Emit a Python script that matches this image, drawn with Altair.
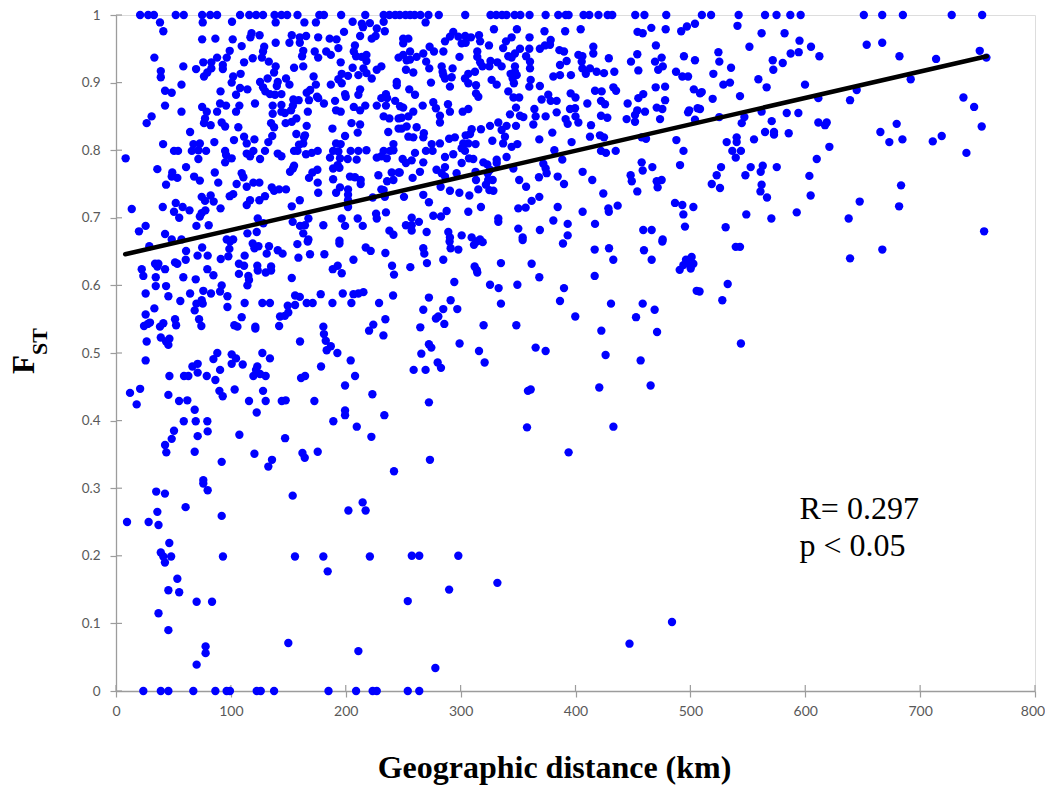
import altair as alt
import pandas as pd

top_row_km = [21,28,33,52,59,75,82,88,108,116,122,128,138,144,149,158,177,181,196,217,233,238,243,
              247,252,256,260,265,272,281,304,326,331,336,340,347,352,360,374,385,391.5,394,407,412,420,428,432,452,460,479,
              510,518,542,565,575,587,596,651,667,685,727.5,754]
zero_row_km = [23.8,39,45.6,67.3,86.5,96.3,99.2,122.5,126,137.6,185,209,223.4,227,254,264]

upper_left = [(38.3,.989),(41.2,.976),(75.5,.989),(101,.990),(139,.989),(164,.989),(174,.989),(206,.990),(214,.987),(215,.982),(221,.988),(227,.980),(234,.976),(233,.990),
(198.5,.975),(118,.973),(117,.967),(125,.970),(153,.970),(160,.967),(165.5,.969),(176,.967),(186,.965),(192,.964),(212.5,.969),(222.6,.965),(226,.969),(75,.964),(86.5,.965),(101.6,.964),(139,.959),(151,.959),(160,.959),(109.4,.954),(208,.955),(129,.953),
(33.4,.937),(99,.947),(96.4,.937),(88,.937),(128,.946),(127,.937),(163,.947),(162,.939),(173,.946),(176,.937),(183,.946),(187,.941),(193.6,.951),(207,.946),(209,.939),(214,.938),(218,.941),(218,.932),(246,.937),
(119,.936),(111.5,.930),(133,.931),(195.6,.930),(76,.930),(83,.930),(58.6,.924),(69.7,.920),(83,.921),(93,.926),(93,.920),(139,.924),(155,.922),(163,.924),(206,.922),(215.4,.921),(227,.919),(231,.924),
(39,.917),(39,.908),(79.5,.915),(76.6,.909),(108.5,.913),(102,.909),(137.6,.915),(172,.909),(196.5,.913),(193.6,.905),(202,.910),(211,.911),(218,.914),(222.6,.906),
(100.7,.900),(57,.897),(132,.906),(125.4,.901),(140.8,.901),(148,.906),(151,.897),(174,.897),(187,.897),(196.5,.899),(244.4,.901),(244.4,.896),
(140,.895),(128,.893),(108,.892),(114.4,.890),(91,.887),(130,.887),(134,.883),(169,.889),(166,.885),(212.5,.890),(42.7,.888),(48.5,.885),
(138.4,.882),(144,.883),(199.4,.883),(211,.882),(235,.883),(104.5,.882),(175,.879),(200,.879),
(154.4,.875),(159,.874),(168,.874),(231,.877),(236,.877),(243,.873),(190.7,.873),(176,.877),
(90.6,.869),(95.8,.866),(121,.869),(181,.869),(42.7,.866),(75,.864),(107.4,.866),(136.4,.866),(144,.867),(154,.866),(227,.866),(235,.866),(207,.864),(217,.866),(247.3,.865),
(212.5,.859),(191.6,.859),(195.6,.857),(57,.857),(79,.857),(88,.857),(104.5,.857),(144,.857),(152.4,.859),(167,.857),(136.4,.854),(147,.855),
(31,.850),(26.7,.840),(77.5,.847),(76.6,.840),(157,.847),(153,.842),(147.7,.840),(233,.850),(238,.847),(246,.847),
(82.4,.837),(92,.841),(95,.835),(106.5,.834),(135,.840),(137.6,.834),(166,.836),(188.4,.832),(205,.840),(212.5,.838),(246,.832),
(64.5,.827),(136,.821),(157,.824),(164.5,.822),(199.4,.821),(210.4,.826),(237,.827),(111.5,.820),(102.7,.815),(120.5,.816),(163.7,.819),
(85.6,.812),(41,.809),(67.4,.809),(73,.810),(113.8,.810),(132.6,.812),(163,.810),(159.3,.808),(191.6,.810),(195.6,.809),(241.5,.809),
(50.5,.799),(54,.799),(66,.799),(71.7,.800),(78.4,.799),(95,.799),(113.8,.795),(119.6,.799),(129.7,.799),(155,.799),(158,.799),(175.6,.799),(170.4,.796),(165.4,.794),(189,.799),(193.6,.798),(204.3,.799),(211,.799),(218,.800),(233,.799),(238.6,.799),(241.5,.800),
(8.4,.788),(71.7,.787),(95.8,.793),(100.7,.788),(116.7,.791),(125.4,.787),(140.8,.795),(144,.791),(186.3,.789),(195,.788),(201.7,.787),(209.5,.786),(227,.789),(231,.791),(235.7,.788),
(95,.782),(155,.777),(154,.773),(36,.772),(61,.775),(193,.778),(194.5,.774),(189,.773),
(151.5,.768),(86,.767),(175.3,.771),(171,.767),(109.4,.766),(49,.767),(48.5,.761),(53.4,.759),(68,.761),(110.9,.760),(168,.759),(228.4,.763),(240,.767),(246,.767),(203.7,.761),(208,.760),
(73,.755),(89,.752),(43.6,.749),(105,.750),(113.8,.746),(119.6,.752),(124.8,.752),(175.6,.752),(189,.757),(195,.745),(213,.756),(213,.750),(236,.754),(241.5,.756),
(135.6,.745),(137.6,.740),(142,.742),(148,.742),(176,.737),(191.6,.737),(202,.742),(202,.734),(231,.742),(233,.741),
(102,.735),(99,.732),(74.6,.731),(82.4,.733),(77.5,.725),(85,.724),(116.7,.726),(124.8,.726),(129.7,.732),(160,.726),(202,.726),(223.5,.730),(234,.731),
(113.8,.719),(52,.722),(40.7,.716),(58,.716),(64,.711),(50.5,.709),(74.6,.707),(77.8,.711),(91,.714),(13.7,.713),(153,.717),(202,.716),(73,.702),(55,.700),
(226.4,.706),(227,.699),(235,.708),(167.5,.699),(196.5,.699),(210.4,.699),(123.4,.699),(153.8,.694),
(25.8,.688),(20,.680),(70,.688),(80.7,.689),(114.4,.677),(122.5,.679),(128.3,.692),(160.2,.688),(164.5,.689),(180.5,.689),(199.4,.688),(214.8,.688),(238,.681),(241.5,.675),(163,.677),(42.7,.676),(48.5,.668),(57,.668),(96.4,.668),(102,.668),(167.5,.668),(194.5,.666)]

upper_mid = [(269.5,.989),(329,.979),(349,.979),(373,.976),(391,.976),(404.5,.979),(466,.981),(478.5,.979),(454,.975),(458.5,.973),(492,.976),(497,.983),(504,.987),
(293.6,.975),(290.7,.968),(286.4,.961),(298,.968),(304,.969),(309,.967),(316,.970),(317,.961),(300.9,.958),(304.4,.959),(324.7,.955),(344.4,.967),(339.5,.961),(337,.951),(360,.967),(250,.965),(254.5,.965),(250,.958),(273,.953),(276.8,.946),(285,.946),(267.5,.943),(256,.946),(250,.941),(261.7,.938),(256,.934),(253,.933),(299,.938),(314.5,.946),(314.5,.938),(317,.930),(319,.924),(326,.932),(332,.930),(325,.924),(335.7,.924),
(359.8,.950),(351.7,.950),(347.3,.943),(341.5,.939),(344.4,.937),(357,.939),(360.4,.931),(360.4,.921),(369,.950),(373.4,.955),(378.4,.963),(377.8,.956),(386,.948),(390,.946),(415.5,.953),(415.5,.943),(402.5,.941),(406,.939),(392.3,.932),(386.5,.926),(429,.936),(405.4,.931),(406,.921),(412.6,.921),(418.4,.916),(424.8,.914),(433.8,.916),(409,.913),(396,.911),(386.5,.911),(380.7,.909),
(270,.931),(272.7,.921),(283.5,.924),(284.3,.916),(293,.921),(252.4,.919),(258.8,.915),(285,.911),(286.4,.906),(292.2,.908),(312.5,.916),(306.7,.913),(303.8,.906),(306.7,.899),(313.4,.896),(290.7,.894),(274.2,.900),(347.3,.924),(347.3,.916),(343.5,.913),(348.8,.911),(345.3,.906),(346.4,.899),(361,.904),(359.8,.894),(369,.895),(327,.904),(331.4,.897),(448.3,.931),(453.8,.942),(470,.955),(469.2,.931),(475,.937),(494.4,.939),(504,.933),(454.7,.918),(472,.919),(476,.924),(487.5,.916),(493,.909),(498,.909),
(255.3,.890),(260.3,.882),(313.4,.884),(315.4,.879),(341.5,.887),(346,.878),(351,.878),(376.3,.882),(370.5,.875),(378.4,.873),(383.6,.873),(395.8,.884),(400,.878),(410.3,.869),(417,.888),(422.8,.887),(433,.893),(435.3,.888),(422.2,.873),(425.7,.868),(445.4,.869),(454.7,.877),(459,.883),(469.8,.893),(478,.894),(478,.874),(503,.890),(508.4,.884),
(267,.866),(276.2,.871),(278.5,.862),(289,.868),(290.7,.857),(250,.863),(258.8,.857),(254.5,.850),(248.7,.848),(282,.851),(282,.841),(301.8,.857),(306.7,.861),(343,.853),(348.2,.863),(351.7,.851),(354.6,.849),(364.2,.861),(365.3,.850),(374,.850),(383.6,.856),(391.4,.846),(393.2,.839),(395.2,.861),(399.6,.862),(400,.850),(402.5,.841),(422.2,.851),(427.7,.848),(444.5,.846),(451.8,.852),(453.8,.859),(451.8,.842),(460.5,.857),(470.7,.863),(475.6,.861),(473.6,.846),(499,.859),(498,.856),(506.3,.862),(504,.845),
(253,.835),(261.7,.834),(248.7,.832),(268,.825),(267.5,.819),(254.5,.820),(258.8,.819),(309.6,.831),(308.2,.824),(304.4,.822),(317.7,.831),(325.6,.836),(332.8,.841),(340,.836),(335.7,.830),(348.2,.836),(363.3,.838),(338.6,.820),(337,.810),(344.4,.805),(349.4,.809),(368.5,.816),(379.8,.826),(396.6,.812),(412.6,.820),(413.5,.837),(421.3,.822),(424.8,.819),(457.6,.819),(461.4,.817),(487.8,.815),
(290,.817),(295,.819),(282,.810),(274.8,.809),(313,.809),(327.6,.814),(302.3,.810),(306.7,.810),(300.9,.803),(303.8,.799),(269.8,.799),(275.6,.799),(260.3,.796),(249.5,.787),(293.6,.794),(286.4,.790),(307.3,.788),(311,.787),(300.9,.781),(319.8,.782),(323.2,.779),(331.4,.786),(331.4,.781),(340,.790),(381.6,.800),(388.5,.786),(422.2,.799),(426.5,.796),(435,.799),(494,.799),(491,.778),(457.6,.782),(466.9,.775),(372,.780),(374,.773),
(257.4,.785),(252.4,.781),(267.5,.782),(279,.771),(286.4,.775),(264.6,.768),(247,.767),(258.2,.759),(283.5,.766),(286.4,.761),(296.5,.766),(313,.768),(323.5,.766),(325.6,.771),(345.9,.773),(374.9,.766),(368.2,.760),(384.5,.761),(406.2,.768),(414.6,.756),(448,.763),(458.5,.770),(449,.754),
(313.4,.756),(324,.756),(327.9,.756),(322,.749),(325,.741),(328.5,.740),(351,.756),(357,.746),(390,.750),(470.7,.754),(475,.756),(471.5,.745),(453.8,.739),(424.2,.736),(282.6,.746),(290.7,.740),(298.9,.737),(307.6,.733),(315.4,.742),(250.7,.731),(267.5,.734),(272.4,.723),
(361.8,.725),(368.5,.731),(350.2,.714),(356.6,.715),(384.5,.716),(406.2,.709),(428.6,.714),(429,.709),(436.7,.718),(486.6,.722),(493,.719),(502.6,.716),(493.9,.705),(495.3,.687),
(287.8,.710),(282.9,.702),(276.2,.703),(306.7,.709),(317.7,.716),(332.8,.699),(332.8,.694),(257.4,.700),(263.7,.694),(252.4,.689),(257.4,.689),(257.4,.681),(270.4,.679),(289.3,.679),(290.7,.671),(300.9,.674),(309.6,.671),(316.9,.668),(350.2,.684),(369,.682),(380.7,.696),(393.2,.691),(417,.691),(393.2,.674),(354,.671),(459,.682),(466.3,.682),(475.9,.668)]

upper_right = [(541,.984),(562,.973),(582,.973),(595,.962),(605,.953),(612.3,.939),(587.3,.943),(594.3,.945),(551.4,.953),(524.4,.945),(525.2,.931),(535.4,.922),(520,.913),(528.7,.897),(534.5,.900),(509.9,.886),(519.4,.876),(543.2,.880),(559.2,.905),(566.4,.893),(571.7,.933),(580.4,.929),(572.2,.919),(599.8,.897),(611.4,.877),(508.4,.861),(562,.857),(583.9,.855),(594,.855),(547,.849),(544.7,.840),(525.2,.849),(570.8,.843),(611.4,.841),(618.7,.841),(617.2,.837),(565,.827),(572.8,.827),(572.8,.823),(585.6,.825),(555.4,.816),(540.3,.819),(540.3,.812),(531.6,.812),(536.5,.799),(544,.799),(539.5,.789),(621,.805),(610,.787),(526.7,.775),(522.9,.763),(518.6,.750),(525.8,.744),(547.9,.763),(552.5,.775),(563,.777),(561.2,.768),(575.2,.775),(603.6,.762),(562,.749),(561,.739),(566.7,.730),(604.7,.733),(548.7,.705),(570.5,.699),(592.6,.708),(530.7,.686),(539.5,.657),(543.2,.657),(532.5,.602),(508,.591),(527.8,.578),(544,.514),
(653.5,.956),(667,.959),(682,.939),(713.9,.935),(751.9,.947),(757.7,.937),(691.8,.905),(644.8,.889),(639,.874),(737.7,.878),(747,.864),(753.6,.835),(679.6,.839),(665.4,.827),(673.2,.812),(684.6,.816),(711,.813),(718.8,.821),(740.3,.796),(683.4,.748),(647.4,.724),(681.7,.717),(637.8,.699),(755.7,.680),(667.1,.653),(639,.640)]

lower_left = [(29,.658),(61,.651),(60.7,.638),(71,.644),(79.8,.644),(75,.656),(99.3,.665),(98.7,.654),(97.8,.643),(91.2,.639),(112,.644),(119,.662),(120.5,.655),(124,.658),(133.2,.658),(131.2,.647),(140.8,.652),(145,.647),(157.9,.661),(158.8,.641),(168.9,.646),(166.9,.665),(181.4,.646),(194.5,.662),(217.4,.656),(221.7,.651),(234.5,.648),(206.7,.638),
(34,.632),(36.9,.632),(36,.628),(42.7,.624),(22.4,.624),(23.8,.614),(34.6,.612),(51.4,.634),(53.4,.632),(79.5,.624),(84.8,.615),(58.6,.612),(69.4,.609),(107,.632),(111.5,.629),(107,.617),(123,.629),(123.4,.622),(130.3,.619),(135,.628),(135,.622),(115.2,.614),(115.8,.608),(153,.611),(114.4,.600),(188.7,.624),(193,.629),(196.5,.618),(240.3,.629),(242,.616),
(34.6,.599),(43.6,.599),(25.8,.588),(45.6,.584),(56,.577),(64.5,.588),(76,.592),(82.7,.588),(92,.600),(90.6,.591),(97,.584),(70,.573),(74.6,.578),(75.5,.573),(97,.568),(112,.574),(127.4,.574),(134,.574),(149.5,.570),(155.9,.571),(155.9,.585),(160,.583),(166,.574),(171.2,.574),(178.2,.587),(188.4,.574),(197.4,.588),(206.7,.587),(211,.588),(215.4,.590),(204.9,.574),(229,.574),(241.2,.585),
(33.4,.566),(25.8,.557),(68.5,.563),(72.3,.550),(74.3,.540),(51.4,.550),(52.3,.541),(41.2,.544),(38.3,.539),(29.6,.545),(27.6,.543),(24.4,.540),(109.4,.553),(103,.541),(105.7,.539),(121.3,.539),(121.3,.536),(142,.540),(142.8,.554),(147,.555),(150,.560),(180.5,.539),(181,.528),(182.6,.518),(187,.510),(183.4,.504),(192.7,.500),(204.3,.489),(234.5,.550),(224,.542),(220.3,.533),(232.8,.526),
(39,.523),(46.5,.521),(43.6,.517),(45.6,.512),(26.7,.517),(160.2,.517),(25.8,.489),(88.2,.500),(84.8,.491),(100.7,.498),(104.5,.492),(100.7,.484),(110.3,.483),(127.4,.500),(134,.492),(71.1,.484),(66.5,.480),(90.6,.475),(71.1,.471),(123,.480),(121.9,.475),(125.4,.469),(130.3,.466),(119.6,.466),(178.5,.480),(46.5,.466),(59.2,.466),(63,.466),(79,.466),(86.5,.460),(161.1,.463),(164.6,.466),(208.1,.466),(199.4,.452),
(21,.447),(12.2,.441),(18,.424),(45.6,.438),(54.9,.429),(62.1,.430),(90,.444),(92.9,.436),(103.3,.446),(128,.444),(115.8,.429),(130.3,.429),(144.3,.429),(147.7,.430),(172.7,.429),(223.2,.439),(68.5,.416),(122.5,.412),(199.4,.415),(199.4,.408),(233.6,.408),(189.2,.399),
(59,.399),(69.4,.399),(79.5,.399),(50.5,.385),(79.8,.384),(71.1,.377),(107.4,.379),(48.5,.373),(147.2,.374),(209.6,.391),(222.3,.376),(42.7,.364),(43.8,.353),(68.5,.354),(120.5,.351),(162.3,.352),(164.3,.345),(175.6,.354),(135.8,.342),(132.6,.332),(92,.339),(242,.325),(76,.312)]

lower_mid = [(267.5,.655),(268.4,.647),(256.2,.627),(270.7,.633),(284.9,.638),(290.4,.665),(291.3,.655),(298,.653),(311.6,.660),(314,.665),(319.2,.664),(335.1,.633),(361.8,.632),(354,.667),(389.1,.662),(416.7,.653),(429.2,.655),(432.9,.638),(459.6,.652),(466.3,.638),(475.6,.665),
(312.2,.628),(314,.623),(314.5,.619),(368.5,.612),(416.7,.614),(294.5,.605),(325.6,.601),(333.1,.596),(349.4,.601),(390,.596),(272.4,.582),(291.3,.578),(386.5,.577),(335.1,.573),(430.9,.573),(458.5,.573),(468.9,.564),(267.5,.564),(284.9,.565),(297.1,.565),(280.6,.554),(278.5,.551),(285.8,.543),(264.9,.538),(320,.541),(348.5,.541),(399.8,.554),(452.7,.553),(422.5,.533),(471,.531),(490.7,.623),(493.9,.630),(496.2,.638),(501.1,.642),(502.6,.632),(500.3,.625),(496.8,.633),(505.5,.592),
(272.4,.513),(274.5,.508),(265.8,.499),(299.1,.514),(316,.503),(320.9,.486),(365.3,.508),(374,.503),(426.2,.497),(456.7,.489),(280,.486),(282.9,.478),(259.1,.475),(269.5,.475),(272.4,.427),(361,.446),(358.6,.444),(420.7,.449),(465.4,.452),(357.8,.390),(433,.391),(394,.353),(273.3,.342)]

base_points = [(9.6,.25),(28.4,.25),(35,.295),(42.6,.292),(36,.265),(37,.2455),(60.6,.272),(76,.307),(79.8,.297),(92,.259),(46.4,.219),(39,.205),(41.2,.199),(48,.199),(42.6,.19),(93.1,.199),(53.4,.166),(45.6,.149),(55,.146),(70.2,.132),(83.6,.132),(37,.115),(45.6,.090),(78,.066),(78,.056),(70.2,.039),
(153.8,.289),(155.8,.199),(180.5,.199),(184.3,.177),(221,.199),(202.3,.267),(214.7,.279),(217.3,.267),(150,.071),(211,.059),
(257.5,.2),(264,.2),(298,.2),(290,.15),(332,.16),(254,.133),(484,.102),(447,.07),(278,.034)]

trend_km = [8, 758]
trend_fst = [.646, .939]
x_ticks = [0,100,200,300,400,500,600,700,800]
y_ticks = [0,.1,.2,.3,.4,.5,.6,.7,.8,.9,1]
notes = ["R= 0.297", "p < 0.05"]
note_km = [595, 595]
note_fst = [.2685, .2140]

pairs = upper_left + upper_mid + upper_right + lower_left + lower_mid + base_points
pairs += [(k, 1.0) for k in top_row_km] + [(k, 0.0) for k in zero_row_km]
df = pd.DataFrame(pairs, columns=["km", "fst"])

GRAY = "#9c9c9c"
LABEL = "#595959"
xs = alt.Scale(domain=[0, 800], nice=False, zero=False)
ys = alt.Scale(domain=[0, 1], nice=False, zero=False)

points = alt.Chart(df).mark_circle(size=70, color="#0000ff", opacity=1).encode(
    x=alt.X("km:Q", scale=xs, axis=alt.Axis(
        values=x_ticks, grid=False, title=None, labelFlush=False,
        labelOffset=alt.expr("datum.value == 800 ? -2.5 : 0"),
        labelFont="Lato", labelFontSize=14, labelColor=LABEL, labelPadding=7,
        domainColor=GRAY, domainWidth=1.3, tickColor=GRAY, tickSize=6, tickWidth=1.2)),
    y=alt.Y("fst:Q", scale=ys, axis=alt.Axis(
        values=y_ticks, format="~g", grid=False, title=None, labelFlush=False,
        labelFont="Lato", labelFontSize=13.5, labelColor=LABEL, labelPadding=10,
        domainColor=GRAY, domainWidth=1.3, tickColor=GRAY, tickSize=6, tickWidth=1.2)),
)

inner_y = alt.Chart(pd.DataFrame({"v": y_ticks})).mark_rule(color=GRAY, strokeWidth=1.2).encode(
    y=alt.Y("v:Q", scale=ys), x=alt.value(0), x2=alt.value(6))
inner_x = alt.Chart(pd.DataFrame({"v": x_ticks})).mark_rule(color=GRAY, strokeWidth=1.2).encode(
    x=alt.X("v:Q", scale=xs), y=alt.value(670), y2=alt.value(676))

trend = alt.Chart(pd.DataFrame({"km": trend_km, "fst": trend_fst})).mark_line(
    color="#000000", strokeWidth=4.5, strokeCap="round").encode(
    x=alt.X("km:Q", scale=xs), y=alt.Y("fst:Q", scale=ys))

note_text = alt.Chart(pd.DataFrame({"t": notes, "km": note_km, "fst": note_fst})).mark_text(
    font="Liberation Serif", fontSize=32, color="#000000", align="left", baseline="middle").encode(
    x=alt.X("km:Q", scale=xs), y=alt.Y("fst:Q", scale=ys), text="t:N")

x_title = alt.Chart(pd.DataFrame({"t": ["Geographic distance (km)"]})).mark_text(
    font="Liberation Serif", fontSize=32, fontWeight="bold", color="#000000",
    align="center", baseline="alphabetic").encode(
    x=alt.value(438.5), y=alt.value(763), text="t:N")

f_label = alt.Chart(pd.DataFrame({"t": ["F"]})).mark_text(
    font="Liberation Serif", fontSize=31, fontWeight="bold", color="#000000", angle=270,
    align="left", baseline="alphabetic").encode(
    x=alt.value(-82), y=alt.value(359), text="t:N")
st_label = alt.Chart(pd.DataFrame({"t": ["ST"]})).mark_text(
    font="Liberation Serif", fontSize=22, fontWeight="bold", color="#000000", angle=270,
    align="left", baseline="alphabetic").encode(
    x=alt.value(-69), y=alt.value(340), text="t:N")

chart = alt.layer(inner_y, inner_x, points, trend, note_text, x_title, f_label, st_label).properties(
    width=919, height=676,
    autosize=alt.AutoSizeParams(type="none"),
    padding={"left": 108, "top": 7, "right": 10, "bottom": 95},
).configure_view(stroke="#a6a6a6", strokeWidth=1.3).configure(background="#ffffff")

chart.save("out.html", embed_options={"renderer": "svg", "actions": False})
